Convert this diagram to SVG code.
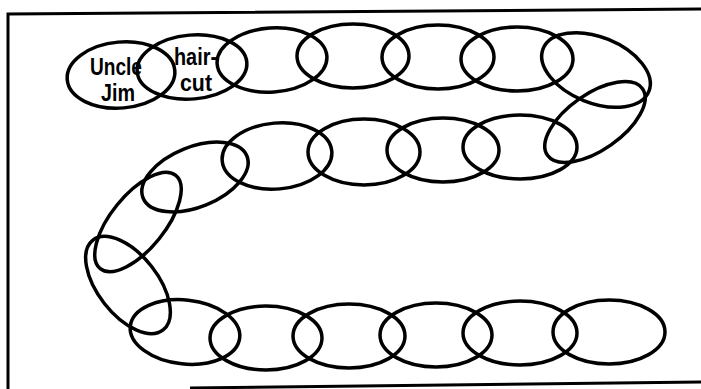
<svg xmlns="http://www.w3.org/2000/svg" width="701" height="389" viewBox="0 0 701 389">
<style>
.link{fill:none;stroke:#000;stroke-width:3.5}
.frame{fill:none;stroke:#000;stroke-width:3}
.lbl{font-family:"Liberation Sans",Arial,sans-serif;font-weight:bold;font-size:23px;fill:#000}
</style>
<rect width="701" height="389" fill="#fff"/>
<g id="frame">
<path class="frame" d="M8 389 L8 14 L701 9"/>
<path class="frame" d="M190 388 L701 382" stroke-width="3.5"/>
</g>
<g id="connectors"/>
<g id="n1"><ellipse class="link" cx="121" cy="75" rx="54" ry="33" transform="rotate(-5 121 75)"/>
<text class="lbl" x="90" y="75" textLength="52" lengthAdjust="spacingAndGlyphs">Uncle</text>
<text class="lbl" x="101" y="101" textLength="34" lengthAdjust="spacingAndGlyphs">Jim</text></g>
<g id="n2"><ellipse class="link" cx="192" cy="67" rx="55" ry="32" transform="rotate(-5 192 67)"/>
<text class="lbl" x="174" y="65" textLength="43" lengthAdjust="spacingAndGlyphs">hair-</text>
<text class="lbl" x="180" y="91" textLength="32" lengthAdjust="spacingAndGlyphs">cut</text></g>
<g id="n3"><ellipse class="link" cx="272" cy="60" rx="55" ry="32" transform="rotate(-4 272 60)"/></g>
<g id="n4"><ellipse class="link" cx="353" cy="56" rx="56" ry="32"/></g>
<g id="n5"><ellipse class="link" cx="438" cy="57" rx="56" ry="32"/></g>
<g id="n6"><ellipse class="link" cx="517" cy="59" rx="56" ry="32"/></g>
<g id="n7"><ellipse class="link" cx="596" cy="70" rx="57" ry="33" transform="rotate(22 596 70)"/></g>
<g id="n8"><ellipse class="link" cx="595" cy="122" rx="58" ry="28" transform="rotate(-35 595 122)"/></g>
<g id="n9"><ellipse class="link" cx="520" cy="147" rx="57" ry="32"/></g>
<g id="n10"><ellipse class="link" cx="443" cy="150" rx="56" ry="32"/></g>
<g id="n11"><ellipse class="link" cx="364" cy="152" rx="56" ry="33"/></g>
<g id="n12"><ellipse class="link" cx="277" cy="156" rx="55" ry="33" transform="rotate(-5 277 156)"/></g>
<g id="n13"><ellipse class="link" cx="195" cy="177" rx="56" ry="30" transform="rotate(-22 195 177)"/></g>
<g id="n14"><ellipse class="link" cx="138" cy="222" rx="60" ry="27" transform="rotate(-51 138 222)"/></g>
<g id="n15"><ellipse class="link" cx="128" cy="285" rx="57" ry="30" transform="rotate(52 128 285)"/></g>
<g id="n16"><ellipse class="link" cx="185" cy="332" rx="55" ry="32" transform="rotate(6 185 332)"/></g>
<g id="n17"><ellipse class="link" cx="266" cy="338" rx="56" ry="32"/></g>
<g id="n18"><ellipse class="link" cx="349" cy="336" rx="56" ry="32"/></g>
<g id="n19"><ellipse class="link" cx="436" cy="335" rx="56" ry="32"/></g>
<g id="n20"><ellipse class="link" cx="520" cy="333" rx="57" ry="32"/></g>
<g id="n21"><ellipse class="link" cx="609" cy="332" rx="56" ry="32"/></g>
</svg>
